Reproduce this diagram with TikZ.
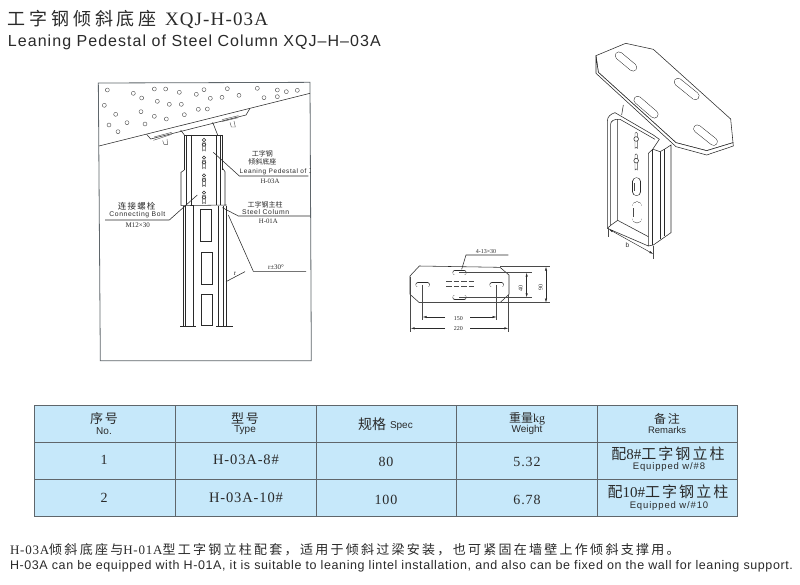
\documentclass[tikz,border=0pt]{standalone}
\usepackage{fontspec}
\usetikzlibrary{arrows.meta}
\newfontfamily\cjk{Noto Sans CJK SC}
\newfontfamily\cjkw{Noto Sans CJK SC}[LetterSpace=14]
\newfontfamily\cjkf{Noto Sans CJK SC}[LetterSpace=17.5]
\newfontfamily\cjkt{Noto Sans CJK SC}[LetterSpace=21]
\newfontfamily\sa{Liberation Sans}
\newfontfamily\saw{Liberation Sans}[LetterSpace=9]
\newfontfamily\sat{Liberation Sans}[LetterSpace=6.5]
\newfontfamily\saf{Liberation Sans}[LetterSpace=4.8]
\newfontfamily\se{Liberation Serif}
\newfontfamily\sew{Liberation Serif}[LetterSpace=6]
\newcommand{\fs}[1]{\fontsize{#1}{#1}\selectfont}
\definecolor{cell}{HTML}{C6E8FA}
\definecolor{rule}{HTML}{5F666B}
\definecolor{ink}{HTML}{2A2A2A}
\tikzset{
 lbl/.style={inner sep=0pt,outer sep=0pt,text=ink},
 tb/.style={inner sep=0pt,outer sep=0pt,text=ink,align=center},
 ln/.style={draw=ink,line width=0.55pt},
 thin ln/.style={draw=ink!85,line width=0.4pt},
 dim/.style={draw=ink,line width=0.45pt,{Latex[length=4pt,width=2.2pt]}-{Latex[length=4pt,width=2.2pt]}},
 one/.style={draw=ink,line width=0.45pt,-{Latex[length=4pt,width=2.2pt]}},
 cellbox/.style={draw=rule,line width=0.9pt,fill=cell},
}
% slot drawn as a thick round-capped stroke with a white core
\newcommand{\slotline}[5]{%
 \draw[ink,line width=#5pt,line cap=round] (#1,#2)--(#3,#4);
 \draw[white,line width=#5pt-1pt,line cap=round] (#1,#2)--(#3,#4);}
\begin{document}
\begin{tikzpicture}[x=1pt,y=-1pt]
\useasboundingbox (0,0) rectangle (800,585);
\fill[white] (0,0) rectangle (800,585);

% ---------- title
\node[lbl,anchor=base west] (t1) at (8,26) {\fs{18}\cjkt 工字钢倾斜底座};
\node[lbl,anchor=base west] (t2) at (165,26) {\fs{19}\sew XQJ-H-03A};
\node[lbl,anchor=base west] (t3) at (8,47) {\fs{16}\sat Leaning Pedestal of Steel Column XQJ–H–03A};

% ---------- left elevation (coordinates of 3x crop)
\begin{scope}[shift={(90,75)},x=0.33333pt,y=-0.33333pt]
 \draw[rule,line width=0.8pt] (25,24)--(660,22)--(664,857)--(31,857)--cycle;
 \draw[ln] (27,213)--(660,55);
 \foreach \p in {(52,45),(130,55),(155,69),(193,42),(227,42),(268,52),(319,58),(342,44),(361,70),(396,67),(412,41),(447,61),(502,40),(522,68),(562,45),(562,65),(589,50),(622,46),(43,91),(202,79),(238,88),(274,88),(325,103),(352,102),(77,118),(153,110),(193,124),(229,132),(283,119),(57,150),(111,143),(165,147),(84,170)}
  \draw[thin ln] \p circle (6);
 % pedestal plate
 \draw[ln] (170,178)--(182,192)--(468,120)--(480,100);
 \draw[thin ln] (190,196)--(245,178) (192,186)--(245,172) (395,140)--(445,128) (396,134)--(445,122);
 \draw[thin ln] (218,197)--(222,208)--(233,208)--(231,192);
 \draw[thin ln] (420,142)--(424,156)--(436,156)--(432,138);
 \draw[ln] (272,165)--(283,180) (368,142)--(383,180);
 % column
 \draw[ln] (283,180)--(398,180) (283,180)--(283,285) (290,180)--(290,390) (305,180)--(305,390)
  (380,180)--(380,390) (390,180)--(390,390) (398,180)--(398,285);
 \draw[ln] (283,285)--(273,292)--(273,392) (398,280)--(405,290)--(405,392);
 \draw[ln] (273,392)--(410,390);
 \draw[ln] (280,392)--(280,753) (287,392)--(287,753) (310,392)--(310,753)
  (385,392)--(385,753) (400,392)--(400,753) (408,392)--(408,753);
 \draw[ln] (270,753)--(318,753) (378,753)--(428,753);
 \draw[ln] (332,403)--(365,403)--(365,499)--(332,499)--cycle
  (333,533)--(367,533)--(367,628)--(333,628)--cycle
  (335,657)--(368,657)--(368,751)--(335,751)--cycle;
 \foreach \y in {190,243,296,348}{
  \draw[thin ln] (338,\y+12)--(338,\y+38) arc[start angle=180,end angle=360,radius=4] -- (346,\y+12);
  \draw[ln,fill=white] (342,\y+5) circle (5) (342,\y+19) circle (5.5);
 }
 % leaders
 \draw[ln] (370,232)--(448,303)--(655,303);
 \draw[ln] (322,360)--(238,435)--(45,435);
 \draw[ln] (397,398)--(445,423)--(660,423);
 \draw[ln] (415,420)--(490,589)--(648,589);
 \draw[ln] (408,620)--(465,590);
 \begin{scope}
  \clip (25,200) rectangle (660,340);
  \node[lbl] (a1) at (517,235) {\fs{7}\cjk 工字钢};
  \node[lbl] (a2) at (517,260) {\fs{7}\cjk 倾斜底座};
  \node[lbl,anchor=west] (a3) at (449,289) {\fs{6.5}\saw Leaning Pedestal of \cjk 工};
  \node[lbl] (a4) at (540,320) {\fs{6.8}\se H-03A};
 \end{scope}
 \node[lbl] (b1) at (140,393) {\fs{8.5}\cjkw 连接螺栓};
 \node[lbl] (b2) at (142,420) {\fs{6.8}\saw Connecting Bolt};
 \node[lbl] (b3) at (143,450) {\fs{7}\se M12×30};
 \node[lbl] (c1) at (525,388) {\fs{7}\cjk 工字钢主柱};
 \node[lbl] (c2) at (527,410) {\fs{6.8}\saw Steel Column};
 \node[lbl] (c3) at (535,438) {\fs{6.8}\se H-01A};
 \node[lbl] (d1) at (558,578) {\fs{7}\se r±30°};
 \node[lbl] (d2) at (435,597) {\fs{7}\se r};
\end{scope}

% ---------- isometric view
\begin{scope}[shift={(570,40)},x=0.33333pt,y=-0.33333pt]
 % column
 \draw[ln] (112,565)--(112,243) .. controls (112,230) and (122,222) .. (135,218)--(250,285)--(268,298)--(248,328)--(235,340)--(235,618)--(250,615)--(303,578)--(303,315)--(283,328)--(270,335)--(250,328);
 \draw[ln] (122,556)--(122,252) .. controls (122,245) and (130,236) .. (150,238)--(255,298) (143,240)--(143,541)--(235,590);
 \draw[ln] (112,565)--(122,556)--(143,541) (112,565)--(235,618);
 \draw[ln] (248,328)--(248,615) (270,335)--(270,597) (283,328)--(283,588);
 \draw[ln] (160,195)--(155,225);
 % plate
 \draw[ln,fill=white] (78,47)--(167,10)--(250,28)--(482,237)--(489,308)--(410,332)--(318,308)--(85,97)--cycle;
 \draw[ln,fill=white] (78,47)--(78,100)--(318,320)--(410,345)--(490,318)--(489,308)--(410,332)--(318,308)--(85,97)--cycle;
 \slotline{147}{47}{189}{82}{8}
 \slotline{203}{180}{253}{223}{8}
 \slotline{324}{126}{376}{168}{8}
 \slotline{382}{266}{431}{305}{8}
 % web holes
 \foreach \y in {275,340}{
  \draw[thin ln] (195,\y+5)--(195,\y+50) arc[start angle=180,end angle=360,radius=3.5]--(202,\y+5) arc[start angle=0,end angle=-180,radius=3.5];
  \draw[ln,fill=white] (198.5,\y+22) circle (7);
 }
 \slotline{200}{425}{200}{455}{8.5}
 \slotline{201}{500}{201}{534}{10.5}
 \draw[thin ln] (192,430)--(192,452) (190,505)--(190,530);
 % dimension
 \draw[thin ln] (115,565)--(115,590) (250,617)--(250,658);
 \draw[dim] (117,568)--(250,642);
 \node[lbl] (b) at (172,615) {\fs{6.5}\sa b};
\end{scope}

% ---------- plan view
\begin{scope}[shift={(400,240)},x=0.33333pt,y=-0.33333pt]
 \draw[ln] (58,78)--(300,82)--(327,105)--(327,163)--(300,188)--(58,188)--(30,163)--(30,108)--cycle;
 \slotline{165}{98}{192}{98}{5}
 \slotline{165}{172}{192}{172}{5}
 \slotline{54}{135}{82}{135}{5}
 \slotline{276}{135}{304}{135}{5}
 \draw[thin ln,dash pattern=on 5.5pt off 2pt] (138,125)--(222,125) (138,138)--(222,138);
 \draw[ln] (185,88)--(198,45)--(325,45);
 \node[lbl] (n1) at (258,36) {\fs{6}\se 4-13×30};
 \draw[thin ln] (178,98)--(395,98) (178,172)--(395,172) (300,80)--(450,80) (58,188)--(450,188);
 \draw[thin ln] (68,135)--(68,240) (290,135)--(290,240) (32,110)--(32,275) (325,165)--(325,275);
 \draw[dim] (380,98)--(380,172);
 \draw[dim] (438,80)--(438,188);
 \node[lbl,rotate=90] (n2) at (362,145) {\fs{6}\se 40};
 \node[lbl,rotate=90] (n3) at (422,142) {\fs{6}\se 90};
 \coordinate (w1) at (135,231);\coordinate (w2) at (210,231);
 \coordinate (x1) at (135,265);\coordinate (x2) at (210,265);
 \draw[one] (w1)--(68,231);
 \draw[one] (w2)--(290,231);
 \draw[one] (x1)--(32,265);
 \draw[one] (x2)--(325,265);
 \node[lbl] (n4) at (175,235) {\fs{6}\se 150};
 \node[lbl] (n5) at (175,265) {\fs{6}\se 220};
\end{scope}

% ---------- table
\foreach \a/\b/\c/\d in {34/175/405.5/442,175/316/405.5/442,316/456/405.5/442,456/597/405.5/442,597/737/405.5/442,
 34/175/442/479,175/316/442/479,316/456/442/479,456/597/442/479,597/737/442/479,
 34/175/479/516,175/316/479/516,316/456/479/516,456/597/479/516,597/737/479/516}
  \draw[cellbox] (\a,\c) rectangle (\b,\d);
\node[tb] (h1a) at (104,419) {\fs{13}\cjkw 序号};
\node[tb] (h1b) at (104,431) {\fs{10}\sa No.};
\node[tb] (h2a) at (245,419) {\fs{13}\cjkw 型号};
\node[tb] (h2b) at (245,430) {\fs{10}\sa Type};
\node[tb,anchor=base west] (h3a) at (358,429) {\fs{14}\cjk 规格};
\node[tb,anchor=base west] (h3b) at (390,428) {\fs{10}\sa Spec};
\node[tb] (h4a) at (527,419) {\fs{12}\cjk 重量{\se kg}};
\node[tb] (h4b) at (527,430) {\fs{10}\sa Weight};
\node[tb] (h5a) at (667,419) {\fs{12}\cjkw 备注};
\node[tb] (h5b) at (667,430) {\fs{9.5}\sa Remarks};
\node[tb] (r1a) at (104,460) {\fs{14}\se 1};
\node[tb] (r1b) at (246,460) {\fs{14.5}\sew H-03A-8\#};
\node[tb] (r1c) at (386,462) {\fs{14}\sew 80};
\node[tb] (r1d) at (527,462) {\fs{14}\sew 5.32};
\node[tb] (r1e) at (668,454) {\fs{15}\cjkw 配{\se 8\#}工字钢立柱};
\node[tb] (r1f) at (669,467) {\fs{9.5}\saw Equipped w/\#8};
\node[tb] (r2a) at (104,498) {\fs{14}\se 2};
\node[tb] (r2b) at (246,498) {\fs{14.5}\sew H-03A-10\#};
\node[tb] (r2c) at (386,500) {\fs{14}\sew 100};
\node[tb] (r2d) at (527,500) {\fs{14}\sew 6.78};
\node[tb] (r2e) at (668,492) {\fs{15}\cjkw 配{\se 10\#}工字钢立柱};
\node[tb] (r2f) at (669,506) {\fs{9.5}\saw Equipped w/\#10};

% ---------- footer
\node[lbl,anchor=base west] (f1) at (10,554) {\fs{13}{\sew H-03A}{\cjkf 倾斜底座与}{\sew H-01A}{\cjkf 型工字钢立柱配套，适用于倾斜过梁安装，也可紧固在墙壁上作倾斜支撑用。}};
\node[lbl,anchor=base west] (f2) at (10,569) {\fs{12.5}\saf H-03A can be equipped with H-01A, it is suitable to leaning lintel installation, and also can be fixed on the wall for leaning support.};
\end{tikzpicture}
\end{document}
